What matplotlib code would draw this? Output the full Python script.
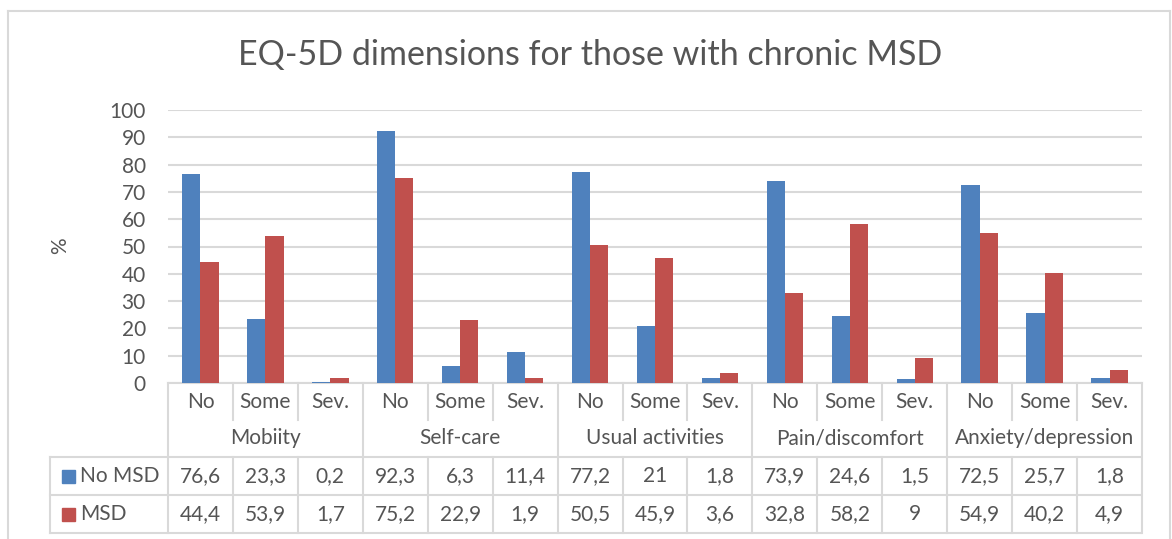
import matplotlib
matplotlib.use("Agg")
import matplotlib.pyplot as plt
from matplotlib.lines import Line2D
from matplotlib.patches import Rectangle
import matplotlib.transforms as mtransforms
import numpy as np

plt.rcParams['font.family'] = ['Lato', 'DejaVu Sans']

groups = ["Mobiity", "Self-care", "Usual activities", "Pain/discomfort", "Anxiety/depression"]
levels = ["No", "Some", "Sev."]
series_names = ["No MSD", "MSD"]
no_msd = [76.6, 23.3, 0.2, 92.3, 6.3, 11.4, 77.2, 21, 1.8, 73.9, 24.6, 1.5, 72.5, 25.7, 1.8]
msd = [44.4, 53.9, 1.7, 75.2, 22.9, 1.9, 50.5, 45.9, 3.6, 32.8, 58.2, 9, 54.9, 40.2, 4.9]
no_msd_labels = ["76,6", "23,3", "0,2", "92,3", "6,3", "11,4", "77,2", "21", "1,8", "73,9", "24,6", "1,5", "72,5", "25,7", "1,8"]
msd_labels = ["44,4", "53,9", "1,7", "75,2", "22,9", "1,9", "50,5", "45,9", "3,6", "32,8", "58,2", "9", "54,9", "40,2", "4,9"]
yticks = [0, 10, 20, 30, 40, 50, 60, 70, 80, 90, 100]

W, H = 1172, 539
fig = plt.figure(figsize=(W / 100, H / 100), dpi=100)

def fx(px):
    return px / W

def fy(py):
    return 1 - py / H

TXT = "#555555"
GRID = "#D9D9D9"
BLUE = "#4F81BD"
RED = "#C0504D"
FS = 15

ax_l, ax_r, ax_t, ax_b = 168, 1142, 110, 383
ax = fig.add_axes([fx(ax_l), fy(ax_b), fx(ax_r - ax_l), (ax_b - ax_t) / H])

n = len(no_msd)
x = np.arange(n) + 0.5
bw = 0.28
ax.bar(x - bw / 2, no_msd, width=bw, color=BLUE, zorder=3)
ax.bar(x + bw / 2, msd, width=bw, color=RED, zorder=3)
ax.set_xlim(0, n)
ax.set_ylim(0, 100)
ax.set_yticks(yticks)
ax.set_yticklabels([str(t) for t in yticks])
ax.tick_params(axis='y', length=0, pad=16, labelsize=FS, labelcolor=TXT)
ax.set_xticks([])
ax.yaxis.grid(True, color=GRID, linewidth=1.5, zorder=0)
for s in ["top", "right", "left"]:
    ax.spines[s].set_visible(False)
ax.spines["bottom"].set_color(GRID)
ax.spines["bottom"].set_linewidth(1.5)
ax.set_facecolor("none")

fig.text(fx(60), fy(246), "%", rotation=90, ha="center", va="center", fontsize=FS, color=TXT)
fig.text(fx(590), fy(55), "EQ-5D dimensions for those with chronic MSD", ha="center", va="center",
         fontsize=24.5, color=TXT)

# table
tr = mtransforms.blended_transform_factory(ax.transData, fig.transFigure)
y_axis, y_cat, y_grp, y_r1, y_r2 = 383, 420, 457, 495, 533
leg_l = 50

def vline_data(xd, y0, y1):
    fig.add_artist(Line2D([xd, xd], [fy(y0), fy(y1)], transform=tr, color=GRID, lw=1.5))

for i in range(n + 1):
    if i % 3 == 0:
        vline_data(i, y_axis, y_r2)
    else:
        vline_data(i, y_axis, y_cat)
        vline_data(i, y_grp, y_r2)

for yy in (y_grp, y_r1, y_r2):
    fig.add_artist(Line2D([fx(leg_l), fx(ax_r - 1)], [fy(yy), fy(yy)], transform=fig.transFigure, color=GRID, lw=1.5))
fig.add_artist(Line2D([fx(leg_l), fx(leg_l)], [fy(y_grp), fy(y_r2)], transform=fig.transFigure, color=GRID, lw=1.5))

for i in range(n):
    ax.text(x[i], fy((y_axis + y_cat) / 2), levels[i % 3], transform=tr, ha="center", va="center", fontsize=FS, color=TXT)
    ax.text(x[i], fy((y_grp + y_r1) / 2), no_msd_labels[i], transform=tr, ha="center", va="center", fontsize=FS, color=TXT)
    ax.text(x[i], fy((y_r1 + y_r2) / 2), msd_labels[i], transform=tr, ha="center", va="center", fontsize=FS, color=TXT)
for g, name in enumerate(groups):
    ax.text(3 * g + 1.5, fy((y_cat + y_grp) / 2), name, transform=tr, ha="center", va="center", fontsize=FS, color=TXT)

for k, (name, col) in enumerate(zip(series_names, [BLUE, RED])):
    yc = (y_grp + y_r1) / 2 if k == 0 else (y_r1 + y_r2) / 2
    sq = 13
    fig.add_artist(Rectangle((fx(62), fy(yc + sq / 2)), fx(sq), sq / H, transform=fig.transFigure, color=col))
    fig.text(fx(80), fy(yc), name, ha="left", va="center", fontsize=FS, color=TXT)

# outer border
for xs, ys in [([8, 8], [11, 539]), ([8, 1170], [11, 11]), ([1170, 1170], [11, 539])]:
    fig.add_artist(Line2D([fx(v) for v in xs], [fy(v) for v in ys], transform=fig.transFigure, color=GRID, lw=1.5))

fig.savefig("out.png", dpi=100, facecolor="white")
